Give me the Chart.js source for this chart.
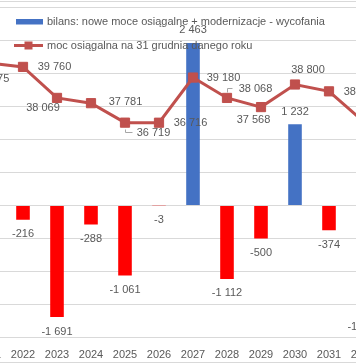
<!DOCTYPE html>
<html><head><meta charset="utf-8">
<script src="https://cdn.jsdelivr.net/npm/chart.js@4/dist/chart.umd.min.js"></script>
<style>
html,body{margin:0;padding:0;background:#fff;}
#wrap{position:relative;width:356px;height:364px;overflow:hidden;background:#fff;}
#c{position:absolute;left:-28px;top:0;}
</style></head><body>
<div id="wrap"><canvas id="c" width="408" height="364"></canvas></div>
<script>
// ---- data ----
const years = ['2021','2022','2023','2024','2025','2026','2027','2028','2029','2030','2031','2032'];
const bilans = [-430, -216, -1691, -288, -1061, -3, 2463, -1112, -500, 1232, -374, -1626];
const moc = [39975, 39760, 38069, 37781, 36719, 36716, 39180, 38068, 37568, 38800, 38426, 36800];
const legendLabels = ['bilans: nowe moce osiągalne + modernizacje - wycofania', 'moc osiągalna na 31 grudnia danego roku'];
const barTicks = {min: -2000, max: 3000, step: 500};
const lineAxis = {min: 25000, max: 43000};

// ---- styles ----
const BLUE = '#4472C4', RED = '#FF0000', LINE = '#C0504D', TXT = '#595959', GRID = '#D9D9D9';
const FONT = '"Liberation Sans", Arial, sans-serif';
const OX = 28; // canvas shifted left (crop of a wider chart)
// label offsets (label centre relative to point)
const lineLabelOffsets = [[3.5,16],[31.5,0],[-14,10.5],[34.5,-1],[28.5,10],[31.5,0],[30.5,0],[28.5,-9],[-7.5,13],[13,-15],[31.5,1],[31.5,0]];
const leaders = {4: [[0,6],[0,9],[7,9]], 7: [[0,-6],[0,-10],[5,-10]]};

const fmt = v => (v < 0 ? '-' : '') + Math.abs(Math.round(v)).toString().replace(/\B(?=(\d{3})+(?!\d))/g, ' ');

Chart.defaults.font.family = FONT;

const frame = {
  id: 'frame',
  beforeDraw(chart) {
    const c = chart.ctx;
    c.save();
    c.fillStyle = '#fff';
    c.fillRect(0, 0, chart.width, chart.height);
    c.fillStyle = GRID;
    c.fillRect(0, 1, chart.width, 1);
    c.fillRect(0, 362, chart.width, 1);
    c.restore();
  }
};

const labels = {
  id: 'labels',
  afterDatasetsDraw(chart) {
    const c = chart.ctx;
    c.save();
    c.font = '11px ' + FONT;
    c.fillStyle = TXT;
    c.textAlign = 'center';
    c.textBaseline = 'middle';
    const bm = chart.getDatasetMeta(1);
    bm.data.forEach((el, i) => {
      const v = bilans[i];
      const y = v < 0 ? el.y + 14.5 : el.y - 12.5;
      c.fillText(fmt(v), el.x, y);
    });
    const lm = chart.getDatasetMeta(0);
    c.strokeStyle = '#A6A6A6';
    c.lineWidth = 1;
    lm.data.forEach((el, i) => {
      const [dx, dy] = lineLabelOffsets[i];
      c.fillText(fmt(moc[i]), el.x + dx, el.y + dy);
      if (leaders[i]) {
        c.beginPath();
        leaders[i].forEach(([lx, ly], k) => {
          const px = Math.round(el.x + lx) + 0.5, py = Math.round(el.y + ly) + 0.5;
          k ? c.lineTo(px, py) : c.moveTo(px, py);
        });
        c.stroke();
      }
    });
    c.restore();
  },
  afterDraw(chart) {
    const c = chart.ctx;
    c.save();
    c.font = '11px ' + FONT;
    c.textAlign = 'left';
    c.textBaseline = 'middle';
    c.fillStyle = BLUE;
    c.fillRect(OX + 16, 19, 27, 5.5);
    c.fillStyle = TXT;
    c.fillText(legendLabels[0], OX + 47, 22);
    c.strokeStyle = LINE;
    c.lineWidth = 3;
    c.beginPath();
    c.moveTo(OX + 14, 45.5);
    c.lineTo(OX + 43, 45.5);
    c.stroke();
    c.fillStyle = LINE;
    c.fillRect(OX + 24.5, 41.5, 8, 8);
    c.fillStyle = TXT;
    c.fillText(legendLabels[1], OX + 47, 45.5);
    c.restore();
  }
};

new Chart(document.getElementById('c'), {
  type: 'bar',
  data: {
    labels: years,
    datasets: [
      {
        type: 'line', label: legendLabels[1], data: moc, yAxisID: 'y2',
        borderColor: LINE, backgroundColor: LINE, borderWidth: 3,
        pointStyle: 'rect', pointRadius: 6.5, pointBorderWidth: 1,
        pointBackgroundColor: LINE, pointBorderColor: LINE, tension: 0, order: 0
      },
      {
        type: 'bar', label: legendLabels[0], data: bilans, yAxisID: 'y',
        backgroundColor: bilans.map(v => v >= 0 ? BLUE : RED),
        categoryPercentage: 1, barPercentage: 0.4, order: 1
      }
    ]
  },
  options: {
    responsive: false, animation: false, devicePixelRatio: 1,
    layout: {autoPadding: false, padding: {top: 7.5, left: 0, right: 0, bottom: 0}},
    plugins: {legend: {display: false}, tooltip: {enabled: false}},
    scales: {
      x: {
        grid: {display: false, drawTicks: false}, border: {display: false},
        ticks: {color: TXT, font: {size: 11}, padding: 11, maxRotation: 0, autoSkip: false},
        afterFit: s => { s.height = 26.5; s.paddingLeft = 0; s.paddingRight = 0; }
      },
      y: {
        position: 'left', min: barTicks.min, max: barTicks.max,
        ticks: {display: false, stepSize: barTicks.step},
        grid: {color: GRID, drawTicks: false, lineWidth: 1}, border: {display: false},
        afterFit: s => { s.width = 0; }
      },
      y2: {display: false, min: lineAxis.min, max: lineAxis.max}
    }
  },
  plugins: [frame, labels]
});
</script>
</body></html>
